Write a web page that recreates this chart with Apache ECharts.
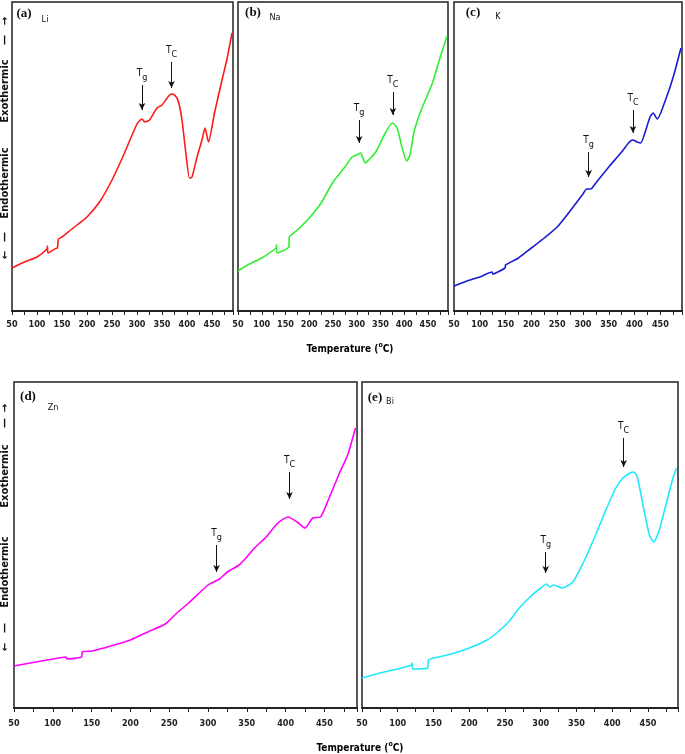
<!DOCTYPE html>
<html><head><meta charset="utf-8">
<script src="https://cdn.jsdelivr.net/npm/echarts@6/dist/echarts.min.js"></script>
<style>html,body{margin:0;padding:0;background:#fff}#c{width:685px;height:754px}</style>
</head><body><div id="c"></div>
<script>
// DSC-like traces: [temperature °C, heat flow (arbitrary units)]
const li = [[50,43],[75,49],[100,54],[120,62],[121,65],[122,58],[141,63],[142,63],[143,72],[150,74],[165,80],[180,86],[200,94],[225,109],[250,131],[275,158],[300,187],[310,192],[316,189],[325,191],[340,203],[350,206],[365,216],[372,217],[380,213],[385,205],[390,191],[397,161],[405,133],[410,134],[420,154],[430,171],[436,183],[443,169],[455,198],[470,231],[480,252],[490,278]];
const na = [[50,40],[70,46],[100,53],[130,63],[131,66],[132,58],[157,64],[158,74],[175,81],[200,93],[225,108],[250,129],[275,144],[290,154],[300,156],[308,158],[313,153],[318,148],[325,151],[340,159],[360,178],[375,188],[385,183],[395,164],[405,150],[412,156],[420,178],[430,194],[440,206],[460,229],[475,253],[490,275]];
const k = [[50,25],[75,30],[100,34],[124,39],[125,37],[149,43],[150,46],[175,53],[200,63],[225,73],[250,84],[275,100],[300,117],[307,122],[315,122],[325,128],[350,144],[375,159],[390,169],[397,171],[405,169],[412,168],[420,178],[430,194],[436,198],[444,192],[460,211],[475,234],[490,263]];
const zn = [[50,42],[100,49],[117,51],[118,49],[137,51],[138,56],[150,57],[175,62],[200,68],[225,77],[245,84],[260,95],[275,105],[300,123],[310,127],[315,129],[325,136],[340,143],[350,151],[360,160],[375,171],[390,185],[403,191],[415,186],[425,180],[435,190],[445,191],[455,208],[470,236],[480,253],[490,280]];
const bi = [[50,30],[75,35],[100,39],[119,43],[120,45],[121,39],[142,40],[143,48],[150,50],[175,54],[200,60],[225,68],[240,76],[255,86],[270,100],[285,111],[300,120],[308,124],[313,121],[318,123],[330,120],[345,126],[360,146],[375,170],[390,196],[405,220],[415,230],[425,235],[430,236],[435,231],[445,196],[452,173],[458,166],[465,176],[475,203],[485,230],[490,240]];

// annotation arrows: [temperature, value at arrow top, value at arrow tip]
const liTg = [310,226,201], liTc = [369,249,223];
const naTg = [305,191,168], naTc = [376,219,196];
const kTg  = [311,159,134], kTc  = [397,201,178];
const znTg = [311,163,136], znTc = [405,236,209];
const biTg = [307,156,135], biTc = [416,270,241];

const xLabels = [50,100,150,200,250,300,350,400,450];
const panelNames = ['(a)','(b)','(c)','(d)','(e)'];
const elements = ['Li','Na','K','Zn','Bi'];

const NARROW = "'Liberation Sans Narrow','DejaVu Sans Condensed',sans-serif";

const grids = [
  {left:12, top:2, width:221, height:309},
  {left:238, top:2, width:210, height:309},
  {left:454, top:2, width:232, height:309},
  {left:14, top:382, width:343, height:326},
  {left:362, top:382, width:316, height:326}
];
const yMax = [309,309,309,326,326];
const colors = ['#ff1a1a','#33ee33','#1a1ad6','#ff00ff','#22e8ff'];
const datas = [li,na,k,zn,bi];
const arrows = [[liTg,liTc],[naTg,naTc],[kTg,kTc],[znTg,znTc],[biTg,biTc]];

const richT = {
  t:{fontSize:10, fontFamily:NARROW, color:'#111', verticalAlign:'top'},
  s:{fontSize:9, fontFamily:NARROW, color:'#111', padding:[5,0,0,0]}
};

function mk(a, sub){
  return [
    {coord:[a[0],a[1]], symbol:'none', label:{show:true, position:'start', distance:3, formatter:'{t|T}{s|'+sub+'}', rich:richT}},
    {coord:[a[0],a[2]], symbol:'arrow', symbolSize:[5,7]}
  ];
}

const option = {
  animation:false,
  grid: grids.map(g => Object.assign({show:true, borderColor:'#222', borderWidth:1.5, backgroundColor:'#fff'}, g)),
  xAxis: grids.map((g,i)=>({
    gridIndex:i, type:'value', min:50, max:492, interval:25,
    axisLine:{onZero:false, lineStyle:{color:'#222', width:2}},
    axisTick:{show:true, length:4, lineStyle:{color:'#222', width:1}},
    axisLabel:{margin: i<3 ? 9 : 11, fontSize:9, fontWeight:'bold', fontFamily:NARROW, color:'#222',
      formatter: v => xLabels.indexOf(v) >= 0 ? String(v) : ''},
    splitLine:{show:false}
  })),
  yAxis: grids.map((g,i)=>({gridIndex:i, type:'value', min:0, max:yMax[i], show:false, splitLine:{show:false}})),
  series: datas.map((d,i)=>({
    type:'line', xAxisIndex:i, yAxisIndex:i, data:d, showSymbol:false, smooth:0.2,
    lineStyle:{color:colors[i], width:1.6}, itemStyle:{color:colors[i]},
    markLine:{silent:true, symbol:['none','arrow'], symbolSize:7,
      lineStyle:{color:'#111', width:1, type:'solid'},
      label:{show:false},
      data:[mk(arrows[i][0],'g'), mk(arrows[i][1],'C')]}
  })),
  graphic: []
};

// panel letters + element names
const letterPos = [[24,14],[253,13],[473,13],[28,397],[375,398]];
const elemPos = [[45,20],[275,18],[498,17],[53,408],[390,402]];
panelNames.forEach((p,i)=>{
  option.graphic.push({type:'text', x:letterPos[i][0], y:letterPos[i][1], style:{text:p, font:'bold 13px "Liberation Serif", serif', fill:'#111', align:'center', verticalAlign:'middle'}});
  option.graphic.push({type:'text', x:elemPos[i][0], y:elemPos[i][1], style:{text:elements[i], font:'9px '+NARROW, fill:'#111', align:'center', verticalAlign:'middle'}});
});

// x titles
function xTitle(x, y){
  return {type:'text', x:x, y:y, style:{
    text:'{m|Temperature (}{sup|o}{m|C)}',
    rich:{
      m:{fontSize:10, lineHeight:12, fontWeight:'bold', fontFamily:NARROW, color:'#111', verticalAlign:'bottom'},
      sup:{fontSize:7, lineHeight:7, fontWeight:'bold', fontFamily:NARROW, color:'#111', verticalAlign:'top'}
    },
    align:'center', verticalAlign:'middle'}};
}
option.graphic.push(xTitle(350, 348));
option.graphic.push(xTitle(360, 747));

// rotated y side labels
function side(parts){
  parts.forEach(p=>{
    option.graphic.push({type:'text', x:5, y:p[1], rotation:Math.PI/2, style:{text:p[0], font:'bold 10px "DejaVu Sans", sans-serif', fill:'#111', align:'center', verticalAlign:'middle'}});
  });
}
side([['\u2192',21],['\u2014',40],['Exothermic',91],['Endothermic',183],['\u2014',237],['\u2190',255]]);
side([['\u2192',408],['\u2014',423],['Exothermic',476],['Endothermic',572],['\u2014',628],['\u2190',647]]);

const chart = echarts.init(document.getElementById('c'), null, {renderer:'canvas'});
chart.setOption(option);
</script>
</body></html>
